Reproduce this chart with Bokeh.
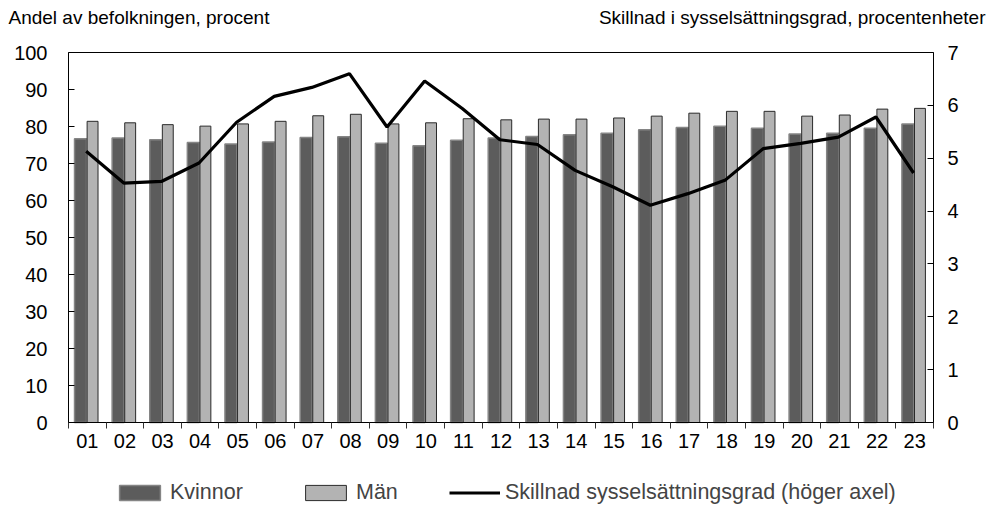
import numpy as np
from bokeh.plotting import figure
from bokeh.models import (ColumnDataSource, Range1d, LinearAxis, FixedTicker,
                          Legend, LegendItem, Label)
from bokeh.transform import dodge
from bokeh.embed import file_html
from bokeh.resources import INLINE

years = ["01", "02", "03", "04", "05", "06", "07", "08", "09", "10", "11", "12",
         "13", "14", "15", "16", "17", "18", "19", "20", "21", "22", "23"]
kvinnor = [76.7, 76.9, 76.4, 75.7, 75.3, 75.8, 77.0, 77.2, 75.5, 74.8, 76.3, 76.9,
           77.3, 77.8, 78.2, 79.1, 79.7, 80.1, 79.5, 78.0, 78.2, 79.5, 80.7]
man = [81.4, 81.0, 80.5, 80.1, 80.7, 81.4, 82.9, 83.3, 80.7, 81.0, 82.1, 81.8,
       82.0, 82.0, 82.3, 82.8, 83.6, 84.1, 84.1, 82.8, 83.1, 84.7, 84.9]
skillnad = [5.13, 4.53, 4.56, 4.91, 5.68, 6.17, 6.34, 6.60, 5.59, 6.46, 5.94, 5.35,
            5.26, 4.77, 4.46, 4.11, 4.33, 4.59, 5.18, 5.28, 5.40, 5.78, 4.72]
left_ticks = list(range(0, 101, 10))
right_ticks = list(range(0, 8))
left_max, right_max = 100, 7
left_title = "Andel av befolkningen, procent"
right_title = "Skillnad i sysselsättningsgrad, procentenheter"
series_names = ["Kvinnor", "Män", "Skillnad sysselsättningsgrad (höger axel)"]

FONT = "Liberation Sans"
K_STYLE = dict(fill_color="#5c5c5c", line_color="#858585", line_width=1.5)
M_STYLE = dict(fill_color="#b3b3b3", line_color="#2a2a2a", line_width=1)
L_STYLE = dict(line_color="black", line_width=3.2)

# page layout (pixels): canvas and the plot box inside it
W, H = 994, 509
BOX_L, BOX_R, BOX_T, BOX_B = 68, 933, 52, 422

n = len(years)
pos = np.arange(1, n + 1)
src = ColumnDataSource(dict(x=pos, k=kvinnor, m=man, d=skillnad))

# ranges chosen so that the plot box sits at BOX_* inside a full-canvas frame
x_lo, x_hi = 0.5, n + 0.5
sx = (BOX_R - BOX_L) / (x_hi - x_lo)
x_range = Range1d(x_lo - BOX_L / sx, x_hi + (W - BOX_R) / sx)
sy = (BOX_B - BOX_T) / left_max
y_range = Range1d(-(H - BOX_B) / sy, left_max + BOX_T / sy)
sr = (BOX_B - BOX_T) / right_max
r_range = Range1d(-(H - BOX_B) / sr, right_max + BOX_T / sr)

p = figure(width=W, height=H, output_backend="svg", toolbar_location=None,
           x_range=x_range, y_range=y_range,
           min_border=0, min_border_left=0, min_border_right=0,
           min_border_top=0, min_border_bottom=0)
p.extra_y_ranges = {"right": r_range}
p.grid.visible = False
p.outline_line_color = None
p.background_fill_color = "white"
p.border_fill_color = "white"

bk = p.vbar(x=dodge("x", -0.18, range=p.x_range), top="k", width=0.32, source=src, **K_STYLE)
bm = p.vbar(x=dodge("x", 0.14, range=p.x_range), top="m", width=0.29, source=src, **M_STYLE)
ln = p.line(x=dodge("x", -0.03, range=p.x_range), y="d", source=src,
            y_range_name="right", **L_STYLE)

# bottom axis
xa = p.xaxis[0]
xa.fixed_location = 0
xa.bounds = (x_lo, x_hi)
xa.ticker = FixedTicker(ticks=list(pos), minor_ticks=list(np.arange(x_lo, x_hi + 0.01, 1.0)))
xa.major_label_overrides = {int(i): y for i, y in zip(pos, years)}
xa.major_tick_in = 0
xa.major_tick_out = 0
xa.minor_tick_in = 0
xa.minor_tick_out = 6
xa.minor_tick_line_color = "#333333"
xa.axis_line_color = "black"
xa.major_label_standoff = 5
xa.major_label_text_font = FONT
xa.major_label_text_font_size = "20px"
xa.major_label_text_color = "black"

# left axis
ya = p.yaxis[0]
ya.fixed_location = x_lo
ya.bounds = (0, left_max)
ya.ticker = FixedTicker(ticks=left_ticks)
ya.major_tick_in = 6
ya.major_tick_out = 0
ya.minor_tick_line_color = None
ya.axis_line_color = "black"
ya.major_label_standoff = 21
ya.major_label_text_font = FONT
ya.major_label_text_font_size = "20px"
ya.major_label_text_color = "black"

# right axis
ra = LinearAxis(y_range_name="right", ticker=FixedTicker(ticks=right_ticks),
                fixed_location=x_hi, bounds=(0, right_max))
ra.major_tick_in = 6
ra.major_tick_out = 0
ra.minor_tick_line_color = None
ra.axis_line_color = "black"
ra.major_label_standoff = 14
ra.major_label_text_font = FONT
ra.major_label_text_font_size = "20px"
ra.major_label_text_color = "black"
p.add_layout(ra, "right")

# top edge of the plot box
ta = LinearAxis(fixed_location=left_max, bounds=(x_lo, x_hi), ticker=FixedTicker(ticks=[]))
ta.major_tick_line_color = None
ta.minor_tick_line_color = None
ta.major_label_text_font_size = "0px"
ta.axis_line_color = "black"
p.add_layout(ta, "above")

# axis titles
p.add_layout(Label(x=8, y=H - 17, x_units="screen", y_units="screen", text=left_title,
                   text_font=FONT, text_font_size="19px", text_color="black",
                   text_baseline="middle", text_align="left"))
p.add_layout(Label(x=985, y=H - 17, x_units="screen", y_units="screen", text=right_title,
                   text_font=FONT, text_font_size="19px", text_color="black",
                   text_baseline="middle", text_align="right"))


def add_legend(label, rend, xloc):
    lg = Legend(items=[LegendItem(label=label, renderers=[rend])], location=(xloc, 4),
                orientation="horizontal", padding=0, margin=0, spacing=0,
                glyph_width=51, glyph_height=19, label_height=15, label_standoff=5,
                label_text_font=FONT, label_text_font_size="21.5px",
                border_line_color=None, background_fill_alpha=0)
    p.add_layout(lg, "center")


add_legend(series_names[0], bk, 114)
add_legend(series_names[1], bm, 300)
add_legend(series_names[2], ln, 449)

open("out.html", "w").write(file_html(p, INLINE))
